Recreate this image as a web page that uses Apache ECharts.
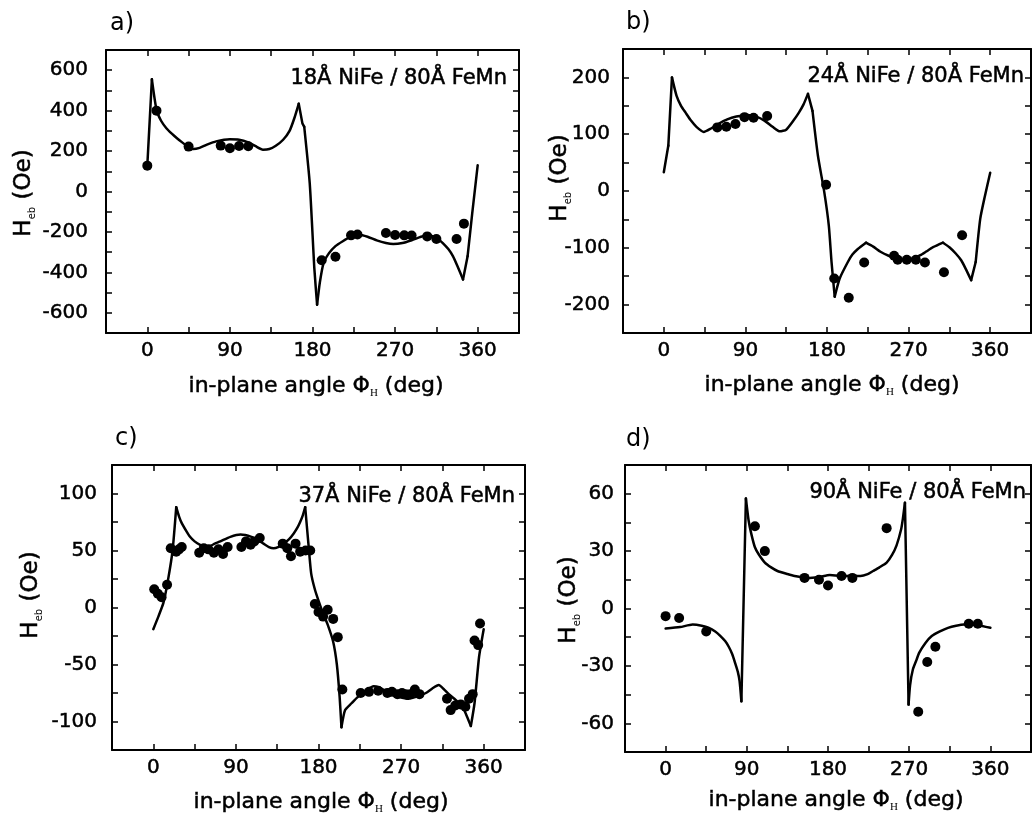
<!DOCTYPE html>
<html><head><meta charset="utf-8">
<script src="https://cdn.jsdelivr.net/npm/echarts@6/dist/echarts.min.js"></script>
<style>html,body{margin:0;padding:0;background:#fff}#c{width:1034px;height:815px}</style>
</head><body><div id="c"></div>
<script>
// ---- data ----
const xTickLabels = [0, 90, 180, 270, 360];
const aTickLabels = [-600, -400, -200, 0, 200, 400, 600];
const bTickLabels = [-200, -100, 0, 100, 200];
const cTickLabels = [-100, -50, 0, 50, 100];
const dTickLabels = [-60, -30, 0, 30, 60];

const aDots = [[0,128],[10,400],[45,222],[80,227],[90,214],[100,225],[110,224],[190,-340],[205,-323],[222,-217],[229,-213],[260,-205],[270,-215],[280,-217],[288,-218],[305,-222],[315,-235],[337,-235],[345,-159]];
const aFit = [[0,128],[5,555],[10,405],[15,350],[21,312],[27,285],[32,265],[38,243],[43,226],[50,210],[57,216],[65,232],[75,248],[90,258],[100,256],[110,243],[118,224],[126,207],[133,210],[140,226],[148,256],[155,300],[160,360],[165,434],[169,337],[171,320],[177,40],[182,-380],[185,-560],[188,-450],[192,-355],[198,-305],[205,-270],[213,-246],[221,-226],[231,-214],[240,-224],[250,-242],[260,-255],[268,-260],[278,-255],[288,-241],[297,-226],[304,-216],[310,-220],[317,-236],[322,-255],[328,-285],[333,-320],[338,-370],[344,-435],[349,-320],[354,-110],[360,130]];
const aCusps = [5, 165, 171, 185, 344, 349];

const bDots = [[59,112],[69,113],[79,118],[89,130],[99,129],[114,132],[179,11],[188,-154],[204,-188],[221,-126],[254,-114],[258,-121],[268,-121],[278,-121],[288,-126],[309,-143],[329,-78]];
const bFit = [[0,33],[5,80],[9,200],[14,168],[19,150],[24,138],[30,124],[36,113],[44,104],[52,110],[60,118],[70,126],[80,131],[92,134],[102,131],[111,124],[120,113],[128,105],[135,108],[143,124],[149,138],[154,152],[159,171],[164,141],[170,62],[177,-2],[182,-61],[185,-125],[188.5,-186],[194,-154],[203,-125],[208,-112],[214,-102],[223,-91],[231,-98],[239,-107],[248,-114],[257,-119],[268,-122],[276,-118],[283,-113],[290,-106],[297,-99],[308,-91],[315,-99],[322,-110],[328,-122],[333,-137],[339,-157],[344,-125],[349,-49],[354,-10],[360,32]];
const bCusps = [5, 9, 159, 164, 188.5, 223, 308, 339, 344];

const cDots = [[1,16],[5,12],[9,9],[15,20],[19,52],[25,49],[28,51],[31,53],[50,48],[55,52],[60,51],[66,48],[71,51],[76,47],[81,53],[96,53],[101,58],[106,55],[110,58],[116,61],[141,56],[146,52],[150,45],[155,56],[160,49],[166,50],[171,50],[176,3],[180,-4],[185,-8],[190,-2],[196,-10],[201,-26],[206,-72],[226,-75],[235,-74],[245,-73],[255,-75],[260,-74],[266,-76],[271,-75],[275,-76],[280,-76],[285,-72],[290,-76],[320,-80],[324,-90],[329,-86],[335,-85],[340,-87],[344,-80],[348,-76],[350,-29],[354,-33],[356,-14]];
const cFit = [[0,-19],[5.5,-8],[11,4],[16,24],[21,50],[25,88],[28,80],[31,74],[36,67],[40,62],[45,58],[51,55],[57,53.5],[62,54],[67,56],[73,58],[84,62],[95,64],[107,62],[114,59],[120,56],[126,53],[131,52],[136,53],[142,56],[148,60],[153,65],[157,70],[160,75],[163,81],[165.5,88],[169,56],[172,30],[176,16],[180,6],[184,-3],[190,-15],[196,-30],[200,-50],[203,-78],[205,-105],[209,-90],[216,-84],[222,-79],[227,-76],[233,-72],[240,-69],[246,-70],[253,-73],[260,-76],[268,-78.5],[278,-80],[288,-78],[297,-75],[304,-71],[311,-68],[317,-72],[322,-76],[328,-80],[333,-84],[338,-89],[342,-96],[346,-104],[350,-84],[355,-43],[360,-19]];
const cCusps = [25, 165.5, 205, 346];

const dDots = [[0,-4],[15,-5],[45,-12],[99,43],[110,30],[154,16],[170,15],[180,12],[195,17],[207,16],[245,42],[280,-54],[290,-28],[299,-20],[336,-8],[346,-8]];
const dFit = [[0,-10.5],[16,-9.7],[30,-8.4],[40,-9],[48,-10.1],[55,-12],[60,-14],[66,-17],[70,-20],[74,-24],[77,-28.4],[80,-33],[82,-38],[84,-48.5],[89,57.5],[92,46],[95,39],[99,32],[103,28.5],[110,24],[117,21.5],[124,19.6],[135,18],[143,17],[157,16],[170,16.5],[182,17.5],[194,17],[205,17],[216,17],[224,18],[230,19.6],[237,21.5],[245,24],[251,28],[256,33],[261,41.3],[263,47],[265.3,55.3],[269.3,-50.2],[271,-40],[274,-32],[278,-27],[281,-23.2],[288,-18],[295,-14.4],[304,-12],[313,-10.1],[322,-9],[331,-8.4],[346,-8.7],[360,-10.1]];
const dCusps = [84, 89, 265.3, 269.3];

const panelLabels = ['a)', 'b)', 'c)', 'd)'];
const sampleNotes = ['18Å NiFe / 80Å FeMn', '24Å NiFe / 80Å FeMn', '37Å NiFe / 80Å FeMn', '90Å NiFe / 80Å FeMn'];
const xTitle = '{t|in-plane angle Φ}{s|H}{t| (deg)}';
const yTitle = '{t|H}{s|eb}{t| (Oe)}';

// ---- layout ----
const FONT = 'DejaVu Sans';
const panels = [
  {grid:{left:106,top:50,width:413,height:283}, y:[-700,700,100], yl:aTickLabels, yMargin:18, dots:aDots, fit:aFit, cusps:aCusps,
   lab:[110,24], note:[507,79], xt:[316,386], yt:[24,193]},
  {grid:{left:623,top:49,width:413,height:284}, y:[-250,250,50], yl:bTickLabels, yMargin:13, dots:bDots, fit:bFit, cusps:bCusps,
   lab:[626,23], note:[1024,77], xt:[832,385], yt:[560,178]},
  {grid:{left:112,top:465,width:413,height:285}, y:[-125,125,25], yl:cTickLabels, yMargin:15, dots:cDots, fit:cFit, cusps:cCusps,
   lab:[115,439], note:[515,497], xt:[321,802], yt:[31,595]},
  {grid:{left:625,top:465,width:413,height:287}, y:[-75,75,15], yl:dTickLabels, yMargin:11, dots:dDots, fit:dFit, cusps:dCusps,
   lab:[626,440], note:[1026,493], xt:[836,800], yt:[569,600]}
];

// split a curve into pieces at its cusps (shared end points) so smoothing keeps cusps sharp
function splitAt(data, cusps) {
  const parts = []; let cur = [];
  data.forEach(pt => {
    cur.push(pt);
    if (cusps.indexOf(pt[0]) >= 0) { parts.push(cur); cur = [pt]; }
  });
  if (cur.length > 1) parts.push(cur);
  return parts;
}

const grids = [], xAxes = [], yAxes = [], series = [], graphics = [];
const lineS = {color:'#000', width:2};
const tickS = {inside:true, length:6, lineStyle:{color:'#000', width:1.5}};
const heavy = {textBorderColor:'#000', textBorderWidth:0.5};
const richT = {t:{fontSize:22, fontFamily:FONT, fill:'#000', stroke:'#000', lineWidth:0.5, lineHeight:26},
               s:{fontSize:11, fontFamily:'Liberation Serif', fill:'#000', verticalAlign:'bottom', lineHeight:14}};
const richY = {t:{fontSize:23, fontFamily:FONT, fill:'#000', stroke:'#000', lineWidth:0.5, lineHeight:26},
               s:{fontSize:10, fontFamily:FONT, fill:'#000', verticalAlign:'bottom', lineHeight:12}};

panels.forEach((p, i) => {
  grids.push(Object.assign({containLabel:false}, p.grid));
  const xb = {gridIndex:i, type:'value', min:-45, max:405, interval:45, splitLine:{show:false},
    axisLine:{show:true, onZero:false, lineStyle:lineS}, axisTick:tickS};
  xAxes.push(Object.assign({}, xb, {position:'bottom',
    axisLabel:Object.assign({margin:8, color:'#000', fontSize:20, fontFamily:FONT,
      formatter:v => xTickLabels.indexOf(Number(v)) >= 0 ? String(v) : ''}, heavy)}));
  xAxes.push(Object.assign({}, xb, {position:'top', axisLabel:{show:false}}));
  const yb = {gridIndex:i, type:'value', min:p.y[0], max:p.y[1], interval:p.y[2], splitLine:{show:false},
    axisLine:{show:true, onZero:false, lineStyle:lineS}, axisTick:tickS};
  const yl = p.yl;
  yAxes.push(Object.assign({}, yb, {position:'left',
    axisLabel:Object.assign({margin:p.yMargin, color:'#000', fontSize:20, fontFamily:FONT,
      formatter:v => yl.indexOf(Number(v)) >= 0 ? String(v) : ''}, heavy)}));
  yAxes.push(Object.assign({}, yb, {position:'right', axisLabel:{show:false}}));
  splitAt(p.fit, p.cusps).forEach(part => {
    series.push({type:'line', xAxisIndex:2*i, yAxisIndex:2*i, data:part, showSymbol:false, symbol:'none',
      smooth:part.length > 3 ? 0.2 : false,
      lineStyle:{color:'#000', width:2.5, cap:'round', join:'round'}, silent:true, animation:false, z:2});
  });
  series.push({type:'scatter', xAxisIndex:2*i, yAxisIndex:2*i, data:p.dots, symbol:'circle', symbolSize:10,
    itemStyle:{color:'#000', opacity:1}, silent:true, animation:false, z:3});
  graphics.push({type:'text', x:p.lab[0], y:p.lab[1], style:{text:panelLabels[i], fontSize:24, fontFamily:FONT, fill:'#000', align:'left', verticalAlign:'middle'}});
  graphics.push({type:'text', x:p.note[0], y:p.note[1], style:{text:sampleNotes[i], fontSize:21, fontFamily:FONT, fill:'#000', stroke:'#000', lineWidth:0.5, align:'right', verticalAlign:'middle'}});
  graphics.push({type:'text', x:p.xt[0], y:p.xt[1], style:{text:xTitle, rich:richT, align:'center', verticalAlign:'middle'}});
  graphics.push({type:'text', x:p.yt[0], y:p.yt[1], rotation:Math.PI/2, style:{text:yTitle, rich:richY, align:'center', verticalAlign:'middle'}});
});

const chart = echarts.init(document.getElementById('c'), null, {renderer:'canvas'});
chart.setOption({animation:false, backgroundColor:'#fff', grid:grids, xAxis:xAxes, yAxis:yAxes, series:series, graphic:graphics});
</script></body></html>
